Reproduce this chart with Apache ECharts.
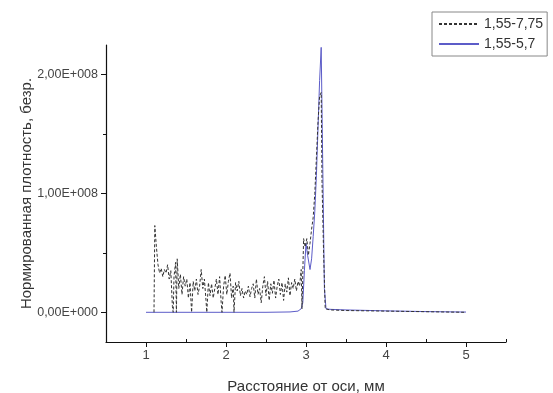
<!DOCTYPE html>
<html>
<head>
<meta charset="utf-8">
<script src="https://cdn.jsdelivr.net/npm/echarts@6/dist/echarts.min.js"></script>
<style>
html,body{margin:0;padding:0;background:#fff;}
#c{width:553px;height:393px;}
</style>
</head>
<body>
<div id="c"></div>
<script>
// values in units of 1e8
var SCALE = 1e8;
var seriesNames = ['1,55-7,75', '1,55-5,7'];
var xTicks = [1, 2, 3, 4, 5];
var xMinorTicks = [1.5, 2.5, 3.5, 4.5, 5.5];
var yTicks = [0, 1, 2];
var yMinorTicks = [0.5, 1.5];

var dens775 = [
 [1.10,0.00],[1.11,0.73],[1.13,0.55],[1.15,0.40],[1.17,0.33],[1.19,0.37],[1.21,0.30],[1.23,0.36],
 [1.25,0.33],[1.27,0.40],[1.29,0.28],[1.31,0.35],[1.33,0.05],[1.34,0.00],[1.35,0.30],[1.37,0.42],
 [1.38,0.00],[1.39,0.45],[1.41,0.20],[1.43,0.32],[1.45,0.15],[1.47,0.30],[1.49,0.22],[1.51,0.28],
 [1.53,0.12],[1.55,0.25],[1.57,0.00],[1.59,0.26],[1.61,0.18],[1.63,0.28],[1.65,0.15],[1.67,0.22],
 [1.69,0.36],[1.71,0.20],[1.73,0.28],[1.75,0.10],[1.76,0.00],[1.78,0.25],[1.80,0.14],[1.82,0.24],
 [1.84,0.12],[1.86,0.20],[1.88,0.28],[1.90,0.15],[1.92,0.30],[1.94,0.08],[1.95,0.00],[1.97,0.22],
 [1.99,0.31],[2.01,0.15],[2.03,0.26],[2.05,0.33],[2.07,0.12],[2.09,0.22],[2.10,0.00],[2.12,0.25],
 [2.14,0.18],[2.16,0.26],[2.18,0.14],[2.20,0.20],[2.22,0.12],[2.24,0.18],[2.26,0.15],[2.28,0.22],
 [2.30,0.13],[2.32,0.20],[2.34,0.24],[2.36,0.12],[2.38,0.28],[2.40,0.15],[2.42,0.20],[2.44,0.08],
 [2.46,0.22],[2.48,0.30],[2.50,0.14],[2.52,0.26],[2.54,0.10],[2.56,0.24],[2.58,0.16],[2.60,0.27],
 [2.62,0.12],[2.64,0.22],[2.66,0.28],[2.68,0.15],[2.70,0.25],[2.72,0.10],[2.74,0.24],[2.76,0.17],
 [2.78,0.29],[2.80,0.14],[2.82,0.25],[2.84,0.20],[2.86,0.28],[2.88,0.18],[2.90,0.26],[2.92,0.22],
 [2.94,0.36],[2.95,0.03],[2.97,0.62],[2.99,0.55],[3.01,0.62],[3.03,0.48],[3.05,0.58],[3.07,0.70],
 [3.09,0.80],[3.11,1.00],[3.13,1.30],[3.15,1.60],[3.17,1.82],[3.19,1.85],[3.20,1.10],[3.22,0.50],
 [3.24,0.03],[3.30,0.02],[3.50,0.015],[4.00,0.01],[4.50,0.005],[5.00,0.00]
];

var dens57 = [
 [1.00,0.00],[1.50,0.00],[2.00,0.00],[2.50,0.00],[2.80,0.003],[2.90,0.01],[2.94,0.03],[2.96,0.08],
 [2.98,0.35],[3.00,0.58],[3.02,0.48],[3.05,0.36],[3.07,0.45],[3.09,0.64],[3.11,0.85],[3.13,1.15],
 [3.15,1.55],[3.17,1.95],[3.19,2.23],[3.21,1.20],[3.23,0.20],[3.25,0.03],[3.30,0.025],[3.50,0.02],
 [4.00,0.012],[4.50,0.006],[5.00,0.002]
];

function scaled(arr){ return arr.map(function(p){ return [p[0], p[1]*SCALE]; }); }
function sci(v){
  if (v === 0) return '0,00E+000';
  var e = Math.floor(Math.log10(Math.abs(v)) + 1e-9);
  var m = v / Math.pow(10, e);
  var es = String(e); while (es.length < 3) es = '0' + es;
  return m.toFixed(2).replace('.', ',') + 'E+' + es;
}

var font = 'Liberation Sans, Arial, sans-serif';
var chart = echarts.init(document.getElementById('c'));
chart.setOption({
  animation: false,
  backgroundColor: '#fff',
  grid: {left: 106, top: 45, right: 47, bottom: 51, containLabel: false, outerBoundsMode: 'none'},
  legend: {
    orient: 'vertical', left: 432, top: 12,
    padding: [5, 4, 5, 6],
    borderColor: '#888', borderWidth: 1,
    itemWidth: 40, itemHeight: 10, itemGap: 6,
    itemStyle: {opacity: 0},
    textStyle: {fontFamily: font, fontSize: 14, color: '#333'},
    data: seriesNames
  },
  xAxis: [{
    type: 'value', min: 0.5, max: 5.5, position: 'bottom',
    splitLine: {show: false},
    axisLine: {onZero: false, lineStyle: {color: '#111', width: 1.2}},
    axisTick: {customValues: xTicks, length: 5, lineStyle: {color: '#111'}},
    axisLabel: {customValues: xTicks, fontFamily: font, fontSize: 13, color: '#444', margin: 7},
    name: 'Расстояние от оси, мм', nameLocation: 'middle', nameGap: 37, nameMoveOverlap: false,
    nameTextStyle: {fontFamily: font, fontSize: 15, color: '#333'}
  }, {
    type: 'value', min: 0.5, max: 5.5, position: 'bottom',
    splitLine: {show: false}, axisLine: {show: false, onZero: false},
    axisTick: {customValues: xMinorTicks, inside: true, length: 3, lineStyle: {color: '#111'}},
    axisLabel: {show: false}
  }],
  yAxis: [{
    type: 'value', min: -0.25*SCALE, max: 2.25*SCALE, position: 'left',
    splitLine: {show: false},
    axisLine: {show: true, onZero: false, lineStyle: {color: '#111', width: 1.2}},
    axisTick: {show: true, customValues: yTicks.map(function(v){return v*SCALE;}), length: 5, lineStyle: {color: '#111'}},
    axisLabel: {customValues: yTicks.map(function(v){return v*SCALE;}), formatter: sci,
      fontFamily: font, fontSize: 12.5, color: '#444', margin: 8},
    name: 'Нормированная плотность, безр.', nameLocation: 'middle', nameGap: 72, nameMoveOverlap: false,
    nameTextStyle: {fontFamily: font, fontSize: 15, color: '#333'}
  }, {
    type: 'value', min: -0.25*SCALE, max: 2.25*SCALE, position: 'left',
    splitLine: {show: false}, axisLine: {show: false, onZero: false},
    axisTick: {show: true, customValues: yMinorTicks.map(function(v){return v*SCALE;}), length: 3, lineStyle: {color: '#111'}},
    axisLabel: {show: false}
  }],
  series: [{
    name: seriesNames[0], type: 'line', data: scaled(dens775),
    xAxisIndex: 0, yAxisIndex: 0, symbol: 'none', z: 3,
    lineStyle: {color: '#333', width: 1, type: [3, 2]},
    itemStyle: {color: '#333'}
  }, {
    name: seriesNames[1], type: 'line', data: scaled(dens57),
    xAxisIndex: 0, yAxisIndex: 0, symbol: 'none', z: 2,
    lineStyle: {color: '#5c5cc8', width: 1},
    itemStyle: {color: '#5c5cc8'}
  }]
});
</script>
</body>
</html>
